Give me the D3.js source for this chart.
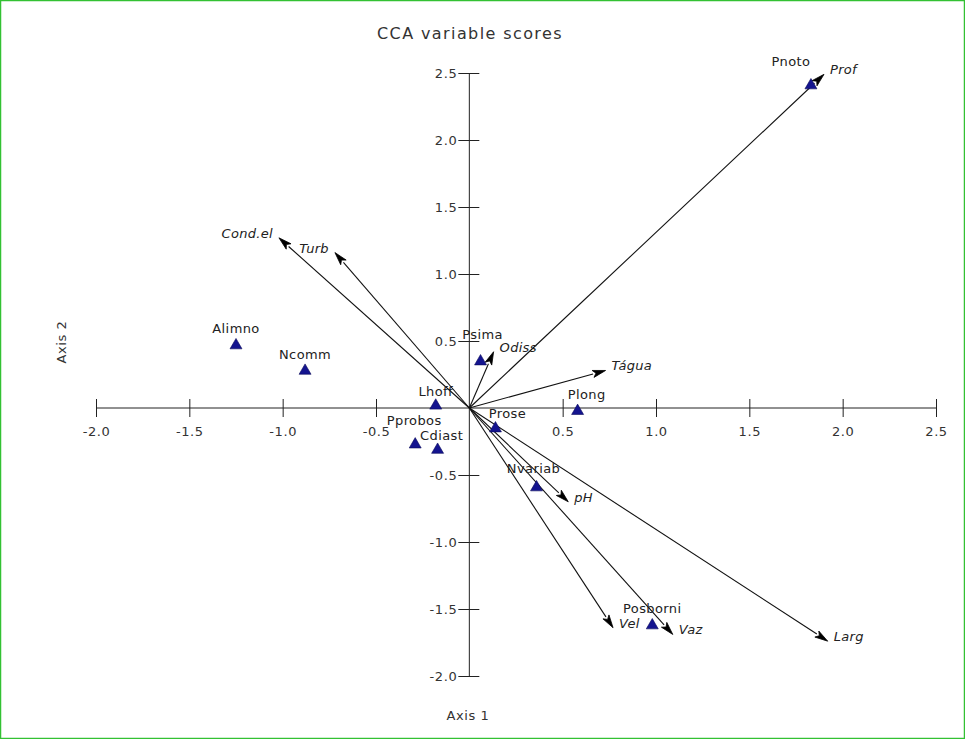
<!DOCTYPE html>
<html>
<head>
<meta charset="utf-8">
<script src="https://cdn.jsdelivr.net/npm/d3@7"></script>
<style>
  html, body { margin: 0; padding: 0; background: #fff; }
  svg { display: block; }
  text { font-family: "DejaVu Sans", Verdana, sans-serif; }
</style>
</head>
<body>
<svg id="chart" width="965" height="739"></svg>
<script>
// Species scores (triangles)
const speciesNames = ["Pnoto", "Alimno", "Ncomm", "Psima", "Lhoff", "Pprobos", "Cdiast", "Prose", "Plong", "Nvariab", "Posborni"];
const speciesAxis1 = [1.83, -1.25, -0.88, 0.06, -0.18, -0.29, -0.17, 0.14, 0.58, 0.36, 0.98];
const speciesAxis2 = [2.40, 0.46, 0.27, 0.34, 0.01, -0.28, -0.32, -0.16, -0.03, -0.60, -1.63];

// Environmental variable biplot scores (arrows)
const envNames = ["Prof", "Cond.el", "Turb", "Odiss", "Tágua", "pH", "Vel", "Vaz", "Larg"];
const envAxis1 = [1.90, -1.02, -0.72, 0.13, 0.73, 0.53, 0.77, 1.09, 1.92];
const envAxis2 = [2.49, 1.27, 1.16, 0.42, 0.28, -0.70, -1.64, -1.69, -1.74];

// Axis ticks
const tickValues = [-2.0, -1.5, -1.0, -0.5, 0.5, 1.0, 1.5, 2.0, 2.5];
const axisRange = [-2.0, 2.5];

const svg = d3.select("#chart");
const W = 965, H = 739;
const FONT = "DejaVu Sans, Verdana, sans-serif";

// frame
svg.append("rect")
  .attr("x", 0.5).attr("y", 0.5)
  .attr("width", W - 1).attr("height", H - 1)
  .attr("fill", "#fff")
  .attr("stroke", "#33c133")
  .attr("stroke-width", 1.5);

const x = d3.scaleLinear().domain(axisRange).range([96, 936]);
const y = d3.scaleLinear().domain(axisRange).range([676, 73]);
const x0 = x(0), y0 = y(0);
const axisColor = "#222";
const textColor = "#333";
const fmt = d => d.toFixed(1);

// horizontal axis through the origin
const xAxis = d3.axisBottom(x).tickValues(tickValues).tickSize(9).tickPadding(10).tickFormat(fmt);
const gx = svg.append("g").attr("transform", `translate(0,${y0})`).call(xAxis);
gx.select(".domain").attr("d", `M${x(axisRange[0])},0H${x(axisRange[1])}`).attr("stroke", axisColor);
gx.selectAll(".tick line").attr("y1", -9).attr("y2", 9).attr("stroke", axisColor);
gx.selectAll(".tick text").attr("fill", textColor).attr("font-size", 13)
  .attr("letter-spacing", 0.6).attr("font-family", FONT);

// vertical axis through the origin
const yAxis = d3.axisLeft(y).tickValues(tickValues).tickSize(11).tickPadding(1).tickFormat(fmt);
const gy = svg.append("g").attr("transform", `translate(${x0},0)`).call(yAxis);
gy.select(".domain").attr("d", `M0,${y(axisRange[0])}V${y(axisRange[1])}`).attr("stroke", axisColor);
gy.selectAll(".tick line").attr("x1", 10).attr("x2", -11).attr("stroke", axisColor);
gy.selectAll(".tick text").attr("fill", textColor).attr("font-size", 13)
  .attr("letter-spacing", 0.6).attr("font-family", FONT);

// titles
svg.append("text").attr("x", 470).attr("y", 39).attr("text-anchor", "middle")
  .attr("font-size", 16).attr("letter-spacing", 1.4).attr("fill", textColor).text("CCA variable scores");
svg.append("text").attr("x", 468).attr("y", 720).attr("text-anchor", "middle")
  .attr("font-size", 13).attr("letter-spacing", 0.6).attr("fill", textColor).text("Axis 1");
svg.append("text").attr("transform", "translate(66,342) rotate(-90)").attr("text-anchor", "middle")
  .attr("font-size", 13).attr("letter-spacing", 0.6).attr("fill", textColor).text("Axis 2");

// arrows
const env = envNames.map((n, i) => ({ name: n, a1: envAxis1[i], a2: envAxis2[i] }));
const arrows = svg.append("g");
env.forEach(d => {
  const tx = x(d.a1), ty = y(d.a2);
  const ang = Math.atan2(ty - y0, tx - x0);
  const len = 13, half = 3.6;
  const bx = tx - len * Math.cos(ang), by = ty - len * Math.sin(ang);
  arrows.append("line")
    .attr("x1", x0).attr("y1", y0).attr("x2", bx).attr("y2", by)
    .attr("stroke", "#111").attr("stroke-width", 1.1);
  const px = -Math.sin(ang) * half, py = Math.cos(ang) * half;
  const nx = tx - (len - 3) * Math.cos(ang), ny = ty - (len - 3) * Math.sin(ang);
  arrows.append("path")
    .attr("d", `M${tx},${ty}L${bx + px},${by + py}L${nx},${ny}L${bx - px},${by - py}Z`)
    .attr("fill", "#000").attr("stroke", "#000").attr("stroke-width", 0.8)
    .attr("stroke-linejoin", "miter");
});

// species triangles
const sp = speciesNames.map((n, i) => ({ name: n, a1: speciesAxis1[i], a2: speciesAxis2[i] }));
const tri = d3.symbol().type(d3.symbolTriangle).size(62);
svg.append("g").selectAll("path").data(sp).join("path")
  .attr("d", tri)
  .attr("transform", d => `translate(${x(d.a1)},${y(d.a2) - 1})`)
  .attr("fill", "#14148f").attr("stroke", "#0a0a5a").attr("stroke-width", 0.6);

// species labels, set just above each triangle
const spNudge = {
  Pnoto: [-20, -7], Psima: [2, -10], Prose: [12, 2], Plong: [9, 0], Lhoff: [0, 2],
  Nvariab: [-3, -2], Pprobos: [-1, -8], Cdiast: [4, 2]
};
svg.append("g").selectAll("text").data(sp).join("text")
  .attr("x", d => x(d.a1) + (spNudge[d.name] ? spNudge[d.name][0] : 0))
  .attr("y", d => y(d.a2) - 13 + (spNudge[d.name] ? spNudge[d.name][1] : 0))
  .attr("text-anchor", "middle").attr("font-size", 13).attr("letter-spacing", 0.4)
  .attr("fill", "#222")
  .text(d => d.name);

// variable labels, italic, beside each arrow tip
svg.append("g").selectAll("text").data(env).join("text")
  .attr("x", d => x(d.a1) + (d.a1 < 0 ? -6 : 6))
  .attr("y", d => y(d.a2))
  .attr("text-anchor", d => d.a1 < 0 ? "end" : "start")
  .attr("font-size", 13).attr("font-style", "italic").attr("letter-spacing", 0.3)
  .attr("fill", "#222")
  .text(d => d.name);
</script>
</body>
</html>
